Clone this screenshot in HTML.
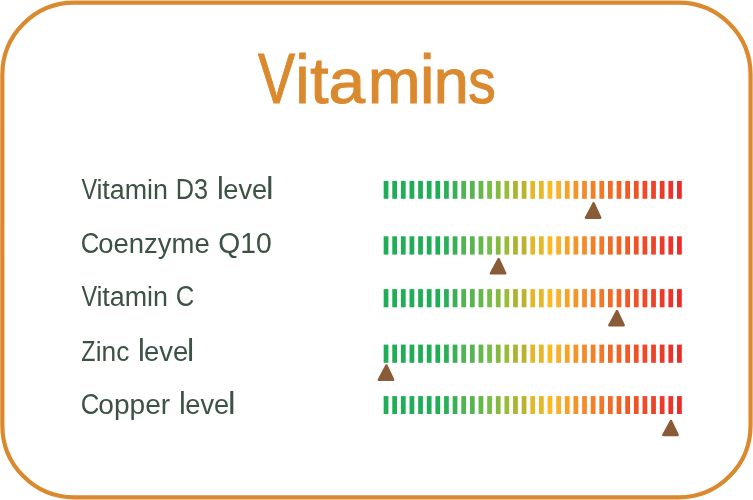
<!DOCTYPE html>
<html><head><meta charset="utf-8"><title>Vitamins</title>
<style>
html,body{margin:0;padding:0;background:#fff;}
svg{display:block;}
text{font-family:"Liberation Sans",sans-serif;white-space:pre;}
.lbl{fill:#3b5245;font-size:27px;}
.ttl{fill:#db892e;stroke:#db892e;stroke-width:1.1px;font-size:66.8px;}
</style></head><body>
<svg width="753" height="500" viewBox="0 0 753 500">
<rect x="0" y="0" width="753" height="500" fill="#fff"/>
<rect x="2.35" y="2.7" width="748.2" height="494.7" rx="72" ry="72" fill="none" stroke="#db892e" stroke-width="4.2"/>
<text class="ttl" y="103.45" aria-label="Vitamins"><tspan x="258.10" font-size="69.6" textLength="37.11" lengthAdjust="spacingAndGlyphs">V</tspan><tspan x="295.60" font-size="67.6" textLength="13.95" lengthAdjust="spacingAndGlyphs">i</tspan><tspan x="310.35" font-size="64.5" textLength="18.26" lengthAdjust="spacingAndGlyphs">t</tspan><tspan x="328.45" font-size="62.9" textLength="36.57" lengthAdjust="spacingAndGlyphs">a</tspan><tspan x="367.95" font-size="62.9" textLength="52.45" lengthAdjust="spacingAndGlyphs">m</tspan><tspan x="419.90" font-size="67.6" textLength="14.46" lengthAdjust="spacingAndGlyphs">i</tspan><tspan x="433.85" font-size="62.9" textLength="34.99" lengthAdjust="spacingAndGlyphs">n</tspan><tspan x="468.35" font-size="62.9" textLength="27.47" lengthAdjust="spacingAndGlyphs">s</tspan></text>
<text class="lbl" y="198.6" aria-label="Vitamin D3 level"><tspan x="81.60" font-size="28.8" textLength="15.67" lengthAdjust="spacingAndGlyphs">V</tspan><tspan x="96.40" textLength="71.64" lengthAdjust="spacingAndGlyphs">itamin</tspan> <tspan x="175.80" font-size="28.8" textLength="32.26" lengthAdjust="spacingAndGlyphs">D3</tspan> <tspan x="217.10" font-size="31.5" textLength="6.80" lengthAdjust="spacingAndGlyphs">l</tspan><tspan x="223.25" textLength="43.94" lengthAdjust="spacingAndGlyphs">eve</tspan><tspan x="265.90" font-size="31.5" textLength="7.55" lengthAdjust="spacingAndGlyphs">l</tspan></text>
<g><rect x="383.65" y="180.9" width="4.75" height="17.9" fill="#1fad58"/><rect x="392.28" y="180.9" width="4.75" height="17.9" fill="#1fad58"/><rect x="400.91" y="180.9" width="4.75" height="17.9" fill="#1fad58"/><rect x="409.54" y="180.9" width="4.75" height="17.9" fill="#1fad58"/><rect x="418.17" y="180.9" width="4.75" height="17.9" fill="#1fad58"/><rect x="426.79" y="180.9" width="4.75" height="17.9" fill="#1fad58"/><rect x="435.42" y="180.9" width="4.75" height="17.9" fill="#1fad58"/><rect x="444.05" y="180.9" width="4.75" height="17.9" fill="#2bb059"/><rect x="452.68" y="180.9" width="4.75" height="17.9" fill="#38b154"/><rect x="461.31" y="180.9" width="4.75" height="17.9" fill="#4fb553"/><rect x="469.94" y="180.9" width="4.75" height="17.9" fill="#57b54f"/><rect x="478.57" y="180.9" width="4.75" height="17.9" fill="#62b94a"/><rect x="487.20" y="180.9" width="4.75" height="17.9" fill="#73be45"/><rect x="495.83" y="180.9" width="4.75" height="17.9" fill="#84bb3e"/><rect x="504.46" y="180.9" width="4.75" height="17.9" fill="#98bc3a"/><rect x="513.09" y="180.9" width="4.75" height="17.9" fill="#a9b635"/><rect x="521.71" y="180.9" width="4.75" height="17.9" fill="#bbb330"/><rect x="530.34" y="180.9" width="4.75" height="17.9" fill="#e3b82d"/><rect x="538.97" y="180.9" width="4.75" height="17.9" fill="#e4b82b"/><rect x="547.60" y="180.9" width="4.75" height="17.9" fill="#fbba22"/><rect x="556.23" y="180.9" width="4.75" height="17.9" fill="#f9b02a"/><rect x="564.86" y="180.9" width="4.75" height="17.9" fill="#f8a128"/><rect x="573.49" y="180.9" width="4.75" height="17.9" fill="#f59529"/><rect x="582.12" y="180.9" width="4.75" height="17.9" fill="#f48a2a"/><rect x="590.75" y="180.9" width="4.75" height="17.9" fill="#f47f25"/><rect x="599.38" y="180.9" width="4.75" height="17.9" fill="#f27829"/><rect x="608.00" y="180.9" width="4.75" height="17.9" fill="#f06c26"/><rect x="616.63" y="180.9" width="4.75" height="17.9" fill="#ef6425"/><rect x="625.26" y="180.9" width="4.75" height="17.9" fill="#ee5b28"/><rect x="633.89" y="180.9" width="4.75" height="17.9" fill="#ee5326"/><rect x="642.52" y="180.9" width="4.75" height="17.9" fill="#ec4a28"/><rect x="651.15" y="180.9" width="4.75" height="17.9" fill="#ec4428"/><rect x="659.78" y="180.9" width="4.75" height="17.9" fill="#eb3a29"/><rect x="668.41" y="180.9" width="4.75" height="17.9" fill="#ec332b"/><rect x="677.04" y="180.9" width="4.75" height="17.9" fill="#ec2c29"/></g>
<path d="M593.60 203.30 L600.30 217.70 L585.90 217.70 Z" fill="#8a5b37" stroke="#8a5b37" stroke-width="2.4" stroke-linejoin="round"/>
<text class="lbl" y="252.6" aria-label="Coenzyme Q10"><tspan x="80.75" font-size="28.8" textLength="18.59" lengthAdjust="spacingAndGlyphs">C</tspan><tspan x="98.30" textLength="111.45" lengthAdjust="spacingAndGlyphs">oenzyme</tspan> <tspan x="218.35" font-size="28.8" textLength="53.47" lengthAdjust="spacingAndGlyphs">Q10</tspan></text>
<g><rect x="383.65" y="236.3" width="4.75" height="18.3" fill="#1fad58"/><rect x="392.28" y="236.3" width="4.75" height="18.3" fill="#1fad58"/><rect x="400.91" y="236.3" width="4.75" height="18.3" fill="#1fad58"/><rect x="409.54" y="236.3" width="4.75" height="18.3" fill="#1fad58"/><rect x="418.17" y="236.3" width="4.75" height="18.3" fill="#1fad58"/><rect x="426.79" y="236.3" width="4.75" height="18.3" fill="#1fad58"/><rect x="435.42" y="236.3" width="4.75" height="18.3" fill="#1fad58"/><rect x="444.05" y="236.3" width="4.75" height="18.3" fill="#2bb059"/><rect x="452.68" y="236.3" width="4.75" height="18.3" fill="#38b154"/><rect x="461.31" y="236.3" width="4.75" height="18.3" fill="#4fb553"/><rect x="469.94" y="236.3" width="4.75" height="18.3" fill="#57b54f"/><rect x="478.57" y="236.3" width="4.75" height="18.3" fill="#62b94a"/><rect x="487.20" y="236.3" width="4.75" height="18.3" fill="#73be45"/><rect x="495.83" y="236.3" width="4.75" height="18.3" fill="#84bb3e"/><rect x="504.46" y="236.3" width="4.75" height="18.3" fill="#98bc3a"/><rect x="513.09" y="236.3" width="4.75" height="18.3" fill="#a9b635"/><rect x="521.71" y="236.3" width="4.75" height="18.3" fill="#bbb330"/><rect x="530.34" y="236.3" width="4.75" height="18.3" fill="#e3b82d"/><rect x="538.97" y="236.3" width="4.75" height="18.3" fill="#e4b82b"/><rect x="547.60" y="236.3" width="4.75" height="18.3" fill="#fbba22"/><rect x="556.23" y="236.3" width="4.75" height="18.3" fill="#f9b02a"/><rect x="564.86" y="236.3" width="4.75" height="18.3" fill="#f8a128"/><rect x="573.49" y="236.3" width="4.75" height="18.3" fill="#f59529"/><rect x="582.12" y="236.3" width="4.75" height="18.3" fill="#f48a2a"/><rect x="590.75" y="236.3" width="4.75" height="18.3" fill="#f47f25"/><rect x="599.38" y="236.3" width="4.75" height="18.3" fill="#f27829"/><rect x="608.00" y="236.3" width="4.75" height="18.3" fill="#f06c26"/><rect x="616.63" y="236.3" width="4.75" height="18.3" fill="#ef6425"/><rect x="625.26" y="236.3" width="4.75" height="18.3" fill="#ee5b28"/><rect x="633.89" y="236.3" width="4.75" height="18.3" fill="#ee5326"/><rect x="642.52" y="236.3" width="4.75" height="18.3" fill="#ec4a28"/><rect x="651.15" y="236.3" width="4.75" height="18.3" fill="#ec4428"/><rect x="659.78" y="236.3" width="4.75" height="18.3" fill="#eb3a29"/><rect x="668.41" y="236.3" width="4.75" height="18.3" fill="#ec332b"/><rect x="677.04" y="236.3" width="4.75" height="18.3" fill="#ec2c29"/></g>
<path d="M498.60 259.10 L505.30 273.40 L490.90 273.40 Z" fill="#8a5b37" stroke="#8a5b37" stroke-width="2.4" stroke-linejoin="round"/>
<text class="lbl" y="306.3" aria-label="Vitamin C"><tspan x="81.60" font-size="28.8" textLength="15.67" lengthAdjust="spacingAndGlyphs">V</tspan><tspan x="96.40" textLength="71.64" lengthAdjust="spacingAndGlyphs">itamin</tspan> <tspan x="175.75" font-size="28.8" textLength="18.59" lengthAdjust="spacingAndGlyphs">C</tspan></text>
<g><rect x="383.65" y="289.1" width="4.75" height="18.2" fill="#1fad58"/><rect x="392.28" y="289.1" width="4.75" height="18.2" fill="#1fad58"/><rect x="400.91" y="289.1" width="4.75" height="18.2" fill="#1fad58"/><rect x="409.54" y="289.1" width="4.75" height="18.2" fill="#1fad58"/><rect x="418.17" y="289.1" width="4.75" height="18.2" fill="#1fad58"/><rect x="426.79" y="289.1" width="4.75" height="18.2" fill="#1fad58"/><rect x="435.42" y="289.1" width="4.75" height="18.2" fill="#1fad58"/><rect x="444.05" y="289.1" width="4.75" height="18.2" fill="#2bb059"/><rect x="452.68" y="289.1" width="4.75" height="18.2" fill="#38b154"/><rect x="461.31" y="289.1" width="4.75" height="18.2" fill="#4fb553"/><rect x="469.94" y="289.1" width="4.75" height="18.2" fill="#57b54f"/><rect x="478.57" y="289.1" width="4.75" height="18.2" fill="#62b94a"/><rect x="487.20" y="289.1" width="4.75" height="18.2" fill="#73be45"/><rect x="495.83" y="289.1" width="4.75" height="18.2" fill="#84bb3e"/><rect x="504.46" y="289.1" width="4.75" height="18.2" fill="#98bc3a"/><rect x="513.09" y="289.1" width="4.75" height="18.2" fill="#a9b635"/><rect x="521.71" y="289.1" width="4.75" height="18.2" fill="#bbb330"/><rect x="530.34" y="289.1" width="4.75" height="18.2" fill="#e3b82d"/><rect x="538.97" y="289.1" width="4.75" height="18.2" fill="#e4b82b"/><rect x="547.60" y="289.1" width="4.75" height="18.2" fill="#fbba22"/><rect x="556.23" y="289.1" width="4.75" height="18.2" fill="#f9b02a"/><rect x="564.86" y="289.1" width="4.75" height="18.2" fill="#f8a128"/><rect x="573.49" y="289.1" width="4.75" height="18.2" fill="#f59529"/><rect x="582.12" y="289.1" width="4.75" height="18.2" fill="#f48a2a"/><rect x="590.75" y="289.1" width="4.75" height="18.2" fill="#f47f25"/><rect x="599.38" y="289.1" width="4.75" height="18.2" fill="#f27829"/><rect x="608.00" y="289.1" width="4.75" height="18.2" fill="#f06c26"/><rect x="616.63" y="289.1" width="4.75" height="18.2" fill="#ef6425"/><rect x="625.26" y="289.1" width="4.75" height="18.2" fill="#ee5b28"/><rect x="633.89" y="289.1" width="4.75" height="18.2" fill="#ee5326"/><rect x="642.52" y="289.1" width="4.75" height="18.2" fill="#ec4a28"/><rect x="651.15" y="289.1" width="4.75" height="18.2" fill="#ec4428"/><rect x="659.78" y="289.1" width="4.75" height="18.2" fill="#eb3a29"/><rect x="668.41" y="289.1" width="4.75" height="18.2" fill="#ec332b"/><rect x="677.04" y="289.1" width="4.75" height="18.2" fill="#ec2c29"/></g>
<path d="M617.00 311.10 L623.70 325.30 L609.30 325.30 Z" fill="#8a5b37" stroke="#8a5b37" stroke-width="2.4" stroke-linejoin="round"/>
<text class="lbl" y="360.6" aria-label="Zinc level"><tspan x="81.25" font-size="28.8" textLength="14.25" lengthAdjust="spacingAndGlyphs">Z</tspan><tspan x="95.75" textLength="33.64" lengthAdjust="spacingAndGlyphs">inc</tspan> <tspan x="137.95" font-size="31.5" textLength="6.80" lengthAdjust="spacingAndGlyphs">l</tspan><tspan x="144.10" textLength="44.27" lengthAdjust="spacingAndGlyphs">eve</tspan><tspan x="187.10" font-size="31.5" textLength="7.21" lengthAdjust="spacingAndGlyphs">l</tspan></text>
<g><rect x="383.65" y="344.6" width="4.75" height="18.2" fill="#1fad58"/><rect x="392.28" y="344.6" width="4.75" height="18.2" fill="#1fad58"/><rect x="400.91" y="344.6" width="4.75" height="18.2" fill="#1fad58"/><rect x="409.54" y="344.6" width="4.75" height="18.2" fill="#1fad58"/><rect x="418.17" y="344.6" width="4.75" height="18.2" fill="#1fad58"/><rect x="426.79" y="344.6" width="4.75" height="18.2" fill="#1fad58"/><rect x="435.42" y="344.6" width="4.75" height="18.2" fill="#1fad58"/><rect x="444.05" y="344.6" width="4.75" height="18.2" fill="#2bb059"/><rect x="452.68" y="344.6" width="4.75" height="18.2" fill="#38b154"/><rect x="461.31" y="344.6" width="4.75" height="18.2" fill="#4fb553"/><rect x="469.94" y="344.6" width="4.75" height="18.2" fill="#57b54f"/><rect x="478.57" y="344.6" width="4.75" height="18.2" fill="#62b94a"/><rect x="487.20" y="344.6" width="4.75" height="18.2" fill="#73be45"/><rect x="495.83" y="344.6" width="4.75" height="18.2" fill="#84bb3e"/><rect x="504.46" y="344.6" width="4.75" height="18.2" fill="#98bc3a"/><rect x="513.09" y="344.6" width="4.75" height="18.2" fill="#a9b635"/><rect x="521.71" y="344.6" width="4.75" height="18.2" fill="#bbb330"/><rect x="530.34" y="344.6" width="4.75" height="18.2" fill="#e3b82d"/><rect x="538.97" y="344.6" width="4.75" height="18.2" fill="#e4b82b"/><rect x="547.60" y="344.6" width="4.75" height="18.2" fill="#fbba22"/><rect x="556.23" y="344.6" width="4.75" height="18.2" fill="#f9b02a"/><rect x="564.86" y="344.6" width="4.75" height="18.2" fill="#f8a128"/><rect x="573.49" y="344.6" width="4.75" height="18.2" fill="#f59529"/><rect x="582.12" y="344.6" width="4.75" height="18.2" fill="#f48a2a"/><rect x="590.75" y="344.6" width="4.75" height="18.2" fill="#f47f25"/><rect x="599.38" y="344.6" width="4.75" height="18.2" fill="#f27829"/><rect x="608.00" y="344.6" width="4.75" height="18.2" fill="#f06c26"/><rect x="616.63" y="344.6" width="4.75" height="18.2" fill="#ef6425"/><rect x="625.26" y="344.6" width="4.75" height="18.2" fill="#ee5b28"/><rect x="633.89" y="344.6" width="4.75" height="18.2" fill="#ee5326"/><rect x="642.52" y="344.6" width="4.75" height="18.2" fill="#ec4a28"/><rect x="651.15" y="344.6" width="4.75" height="18.2" fill="#ec4428"/><rect x="659.78" y="344.6" width="4.75" height="18.2" fill="#eb3a29"/><rect x="668.41" y="344.6" width="4.75" height="18.2" fill="#ec332b"/><rect x="677.04" y="344.6" width="4.75" height="18.2" fill="#ec2c29"/></g>
<path d="M386.50 365.40 L393.20 379.70 L378.80 379.70 Z" fill="#8a5b37" stroke="#8a5b37" stroke-width="2.4" stroke-linejoin="round"/>
<text class="lbl" y="414.3" aria-label="Copper level"><tspan x="80.75" font-size="28.8" textLength="18.59" lengthAdjust="spacingAndGlyphs">C</tspan><tspan x="98.30" textLength="71.89" lengthAdjust="spacingAndGlyphs">opper</tspan> <tspan x="179.10" font-size="31.5" textLength="6.80" lengthAdjust="spacingAndGlyphs">l</tspan><tspan x="185.25" textLength="43.94" lengthAdjust="spacingAndGlyphs">eve</tspan><tspan x="227.90" font-size="31.5" textLength="7.55" lengthAdjust="spacingAndGlyphs">l</tspan></text>
<g><rect x="383.65" y="396.1" width="4.75" height="17.9" fill="#1fad58"/><rect x="392.28" y="396.1" width="4.75" height="17.9" fill="#1fad58"/><rect x="400.91" y="396.1" width="4.75" height="17.9" fill="#1fad58"/><rect x="409.54" y="396.1" width="4.75" height="17.9" fill="#1fad58"/><rect x="418.17" y="396.1" width="4.75" height="17.9" fill="#1fad58"/><rect x="426.79" y="396.1" width="4.75" height="17.9" fill="#1fad58"/><rect x="435.42" y="396.1" width="4.75" height="17.9" fill="#1fad58"/><rect x="444.05" y="396.1" width="4.75" height="17.9" fill="#2bb059"/><rect x="452.68" y="396.1" width="4.75" height="17.9" fill="#38b154"/><rect x="461.31" y="396.1" width="4.75" height="17.9" fill="#4fb553"/><rect x="469.94" y="396.1" width="4.75" height="17.9" fill="#57b54f"/><rect x="478.57" y="396.1" width="4.75" height="17.9" fill="#62b94a"/><rect x="487.20" y="396.1" width="4.75" height="17.9" fill="#73be45"/><rect x="495.83" y="396.1" width="4.75" height="17.9" fill="#84bb3e"/><rect x="504.46" y="396.1" width="4.75" height="17.9" fill="#98bc3a"/><rect x="513.09" y="396.1" width="4.75" height="17.9" fill="#a9b635"/><rect x="521.71" y="396.1" width="4.75" height="17.9" fill="#bbb330"/><rect x="530.34" y="396.1" width="4.75" height="17.9" fill="#e3b82d"/><rect x="538.97" y="396.1" width="4.75" height="17.9" fill="#e4b82b"/><rect x="547.60" y="396.1" width="4.75" height="17.9" fill="#fbba22"/><rect x="556.23" y="396.1" width="4.75" height="17.9" fill="#f9b02a"/><rect x="564.86" y="396.1" width="4.75" height="17.9" fill="#f8a128"/><rect x="573.49" y="396.1" width="4.75" height="17.9" fill="#f59529"/><rect x="582.12" y="396.1" width="4.75" height="17.9" fill="#f48a2a"/><rect x="590.75" y="396.1" width="4.75" height="17.9" fill="#f47f25"/><rect x="599.38" y="396.1" width="4.75" height="17.9" fill="#f27829"/><rect x="608.00" y="396.1" width="4.75" height="17.9" fill="#f06c26"/><rect x="616.63" y="396.1" width="4.75" height="17.9" fill="#ef6425"/><rect x="625.26" y="396.1" width="4.75" height="17.9" fill="#ee5b28"/><rect x="633.89" y="396.1" width="4.75" height="17.9" fill="#ee5326"/><rect x="642.52" y="396.1" width="4.75" height="17.9" fill="#ec4a28"/><rect x="651.15" y="396.1" width="4.75" height="17.9" fill="#ec4428"/><rect x="659.78" y="396.1" width="4.75" height="17.9" fill="#eb3a29"/><rect x="668.41" y="396.1" width="4.75" height="17.9" fill="#ec332b"/><rect x="677.04" y="396.1" width="4.75" height="17.9" fill="#ec2c29"/></g>
<path d="M671.00 420.90 L677.70 435.00 L663.30 435.00 Z" fill="#8a5b37" stroke="#8a5b37" stroke-width="2.4" stroke-linejoin="round"/>
</svg>
</body></html>
